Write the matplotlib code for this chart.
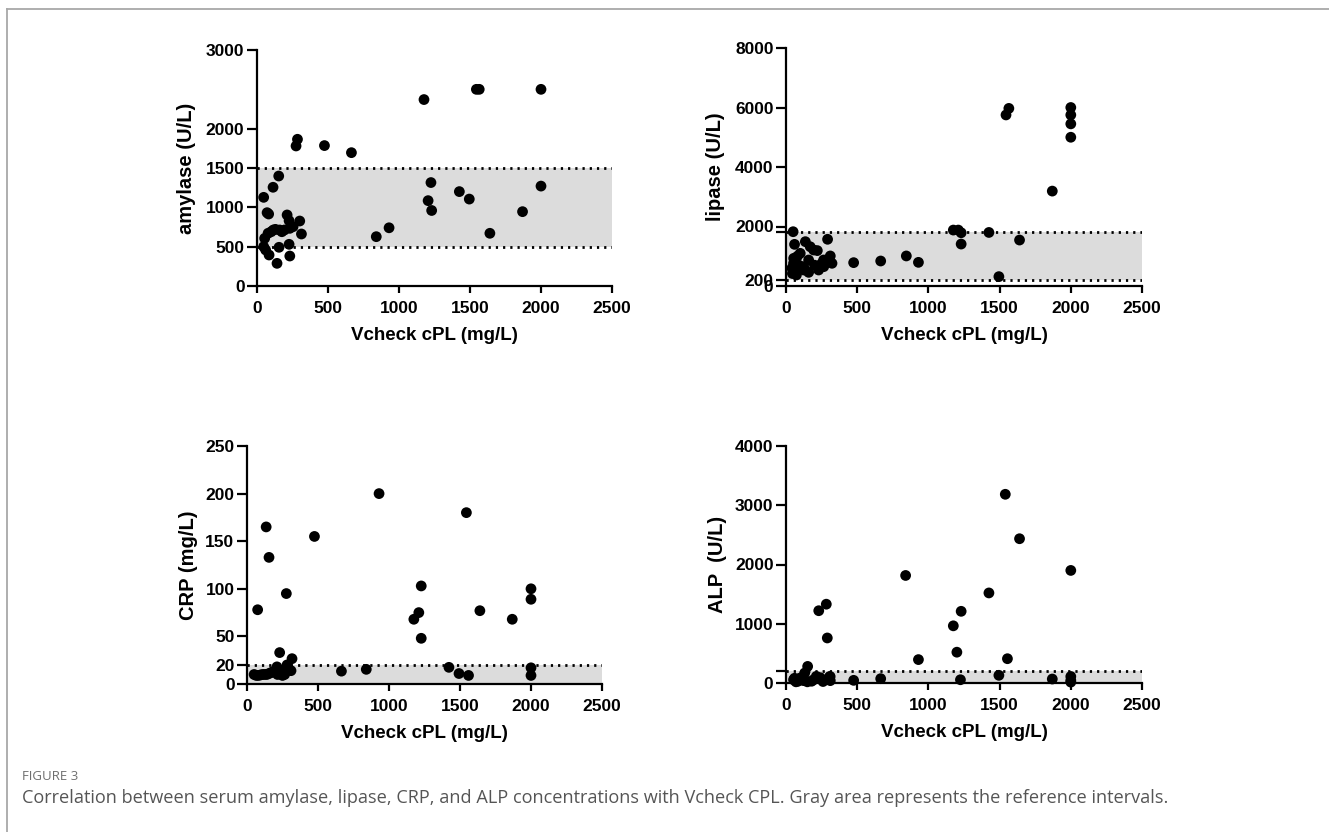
import matplotlib
matplotlib.use("Agg")
import matplotlib.pyplot as plt
from matplotlib.lines import Line2D

# ---------------- data ----------------
amy_x = [1176, 1545, 1565, 2000, 285, 275, 475, 665,
         1225, 1425, 1495, 1205, 1230, 2000, 1870, 1640, 930, 840,
         153, 113, 47, 71, 82, 212, 226, 301, 313, 231, 160, 115, 193, 78, 54, 47,
         61, 85, 155, 226, 231, 141, 254, 100, 130, 175]
amy_y = [2370, 2500, 2500, 2500, 1865, 1780, 1785, 1695,
         1315, 1200, 1105, 1085, 960, 1270, 945, 670, 740, 627,
         1398, 1255, 1127, 932, 915, 903, 830, 826, 661, 733, 712, 712, 712, 670, 606, 500,
         458, 394, 492, 530, 381, 288, 754, 690, 720, 690]

lip_x = [1565, 1545, 2000, 2000, 2000, 2000, 1870, 1175, 1210, 1230, 1425, 1230, 1640, 1495,
         845, 930, 665, 475,
         50, 60, 136, 194, 292, 100, 311, 323, 53, 65, 124, 229, 264, 159, 42, 73, 159, 265,
         124, 54, 170, 220, 80, 90, 200, 300, 250, 45]
lip_y = [5970, 5750, 6000, 5750, 5450, 5000, 3190, 1880, 1880, 1790, 1800, 1410, 1545, 315,
         1010, 795, 840, 785,
         1825, 1400, 1490, 1210, 1570, 1098, 1010, 763, 763, 482, 538, 538, 874, 874, 600, 370,
         459, 650, 650, 930, 1320, 1190, 1000, 700, 700, 900, 750, 420]

crp_x = [930, 1545, 135, 475, 155, 277, 75, 1227, 1210, 1175, 1227, 1640, 1868, 2000, 2000,
         2000, 2000, 1422, 1493, 1560, 665, 840, 230, 317, 282, 211, 310,
         50, 65, 80, 95, 110, 125, 140, 155, 170, 185, 200, 215, 230, 250, 265, 290, 240]
crp_y = [200, 180, 165, 155, 133, 95, 78, 103, 75, 68, 48, 77, 68, 100, 89,
         17, 9, 17.5, 11, 9, 13.5, 15.4, 33, 26.6, 20, 18, 14,
         10, 9, 9, 9.5, 10, 10, 10, 11, 12, 13, 14, 10, 11, 9, 10, 16, 14]

alp_x = [1540, 1640, 840, 2000, 1425, 1230, 1175, 1200, 1555, 930, 1495, 1225, 1870, 2000,
         2000, 2000, 665, 475, 283, 230, 290, 152, 131, 213, 310,
         53, 100, 124, 194, 241, 306, 311, 70, 85, 150, 180, 260, 120, 60]
alp_y = [3185, 2435, 1815, 1900, 1520, 1210, 965, 520, 410, 395, 130, 55, 67, 110,
         45, 15, 73, 45, 1330, 1220, 760, 280, 168, 112, 110,
         55, 84, 40, 55, 89, 106, 40, 20, 30, 20, 30, 25, 100, 80]

x_ticks = [0, 500, 1000, 1500, 2000, 2500]
x_label = "Vcheck cPL (mg/L)"

panels = [
    dict(x=amy_x, y=amy_y, ylabel="amylase (U/L)", ylim=3000,
         yticks=[0, 500, 1000, 1500, 2000, 3000],
         ylabels=["0", "500", "1000", "1500", "2000", "3000"],
         band=(500, 1500), lines=[500, 1500],
         rect=(257, 50, 612, 286), labx=185),
    dict(x=lip_x, y=lip_y, ylabel="lipase (U/L)", ylim=8000,
         yticks=[0, 200, 1800, 2000, 4000, 6000, 8000],
         ylabels=["0", "200", "", "2000", "4000", "6000", "8000"],
         band=(200, 1800), lines=[200, 1800],
         rect=(786, 48, 1142, 286), labx=714),
    dict(x=crp_x, y=crp_y, ylabel="CRP (mg/L)", ylim=250,
         yticks=[0, 20, 50, 100, 150, 200, 250],
         ylabels=["0", "20", "50", "100", "150", "200", "250"],
         band=(0, 20), lines=[20],
         rect=(247, 446, 602, 684), labx=187),
    dict(x=alp_x, y=alp_y, ylabel="ALP  (U/L)", ylim=4000,
         yticks=[0, 200, 1000, 2000, 3000, 4000],
         ylabels=["0", "", "1000", "2000", "3000", "4000"],
         band=(0, 200), lines=[0, 200],
         rect=(786, 446, 1142, 683), labx=716),
]

W, H = 1329, 832
fig = plt.figure(figsize=(W / 100, H / 100), dpi=100)
fig.patch.set_facecolor("white")

FONT = "Liberation Sans"

for p in panels:
    l, t, r, b = p["rect"]
    ax = fig.add_axes([l / W, 1 - b / H, (r - l) / W, (b - t) / H])
    ax.set_xlim(0, 2500)
    ax.set_ylim(0, p["ylim"])
    ax.axhspan(p["band"][0], p["band"][1], color="#dcdcdc", lw=0, zorder=0)
    for yy in p["lines"]:
        ax.axhline(yy, color="black", lw=2.0, linestyle=(0, (0.8, 1.8)), zorder=1)
    ax.scatter(p["x"], p["y"], s=60, color="black", edgecolors="none", zorder=3, clip_on=False)
    for side in ("top", "right"):
        ax.spines[side].set_visible(False)
    for side in ("left", "bottom"):
        ax.spines[side].set_linewidth(1.6)
    ax.set_xticks(x_ticks)
    ax.set_xticklabels([str(v) for v in x_ticks])
    ax.set_yticks(p["yticks"])
    ax.set_yticklabels(p["ylabels"])
    ax.tick_params(axis="x", length=5, width=1.6, pad=6, labelsize=12.5)
    ax.tick_params(axis="y", length=7, width=1.6, pad=2, labelsize=12.5)
    for lab in ax.get_xticklabels() + ax.get_yticklabels():
        lab.set_fontfamily(FONT)
        lab.set_fontweight("bold")
    ax.set_xlabel(x_label, fontsize=13.5, fontweight="bold", family=FONT, labelpad=8)
    ax.set_ylabel(p["ylabel"], fontsize=14.5, fontweight="bold", family=FONT)
    ax.yaxis.set_label_coords((p["labx"] + 11 - l) / (r - l), 0.5)
    ax.set_facecolor("none")

# frame lines (top and left)
fig.add_artist(Line2D([7 / W, 1], [1 - 9 / H, 1 - 9 / H], color="#a8a8a8", lw=1.3,
                      transform=fig.transFigure))
fig.add_artist(Line2D([7 / W, 7 / W], [0, 1 - 9 / H], color="#a8a8a8", lw=1.3,
                      transform=fig.transFigure))

fig.text(22 / W, 1 - 777 / H, "FIGURE 3", fontsize=9.5, color="#6e6e6e",
         family="Open Sans", va="center", ha="left")
fig.text(22 / W, 1 - 798 / H,
         "Correlation between serum amylase, lipase, CRP, and ALP concentrations with Vcheck CPL. "
         "Gray area represents the reference intervals.",
         fontsize=13.1, color="#555555", family="Open Sans", va="center", ha="left")

fig.savefig("out.png", dpi=100)
